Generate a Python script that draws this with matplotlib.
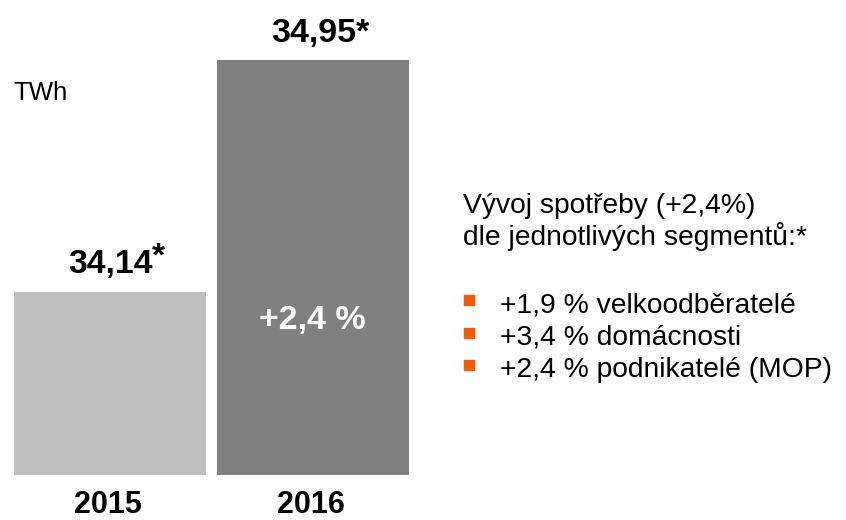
import matplotlib.pyplot as plt
from matplotlib.patches import Rectangle

plt.rcParams['font.family'] = ['Liberation Sans', 'DejaVu Sans']

years = ['2015', '2016']
values = [34.14, 34.95]
value_labels = ['34,14', '34,95*']
bar_colors = ['#bfbfbf', '#808080']
change_label = '+2,4 %'
unit = 'TWh'
note_lines = ['Vývoj spotřeby (+2,4%)', 'dle jednotlivých segmentů:*']
segments = ['+1,9 % velkoodběratelé', '+3,4 % domácnosti', '+2,4 % podnikatelé (MOP)']
base = 33.5

W, H = 846, 520
px = 286.2  # pixels per TWh
fig = plt.figure(figsize=(W / 100, H / 100), dpi=100)
ax = fig.add_axes([0, 0, 1, 1])
ax.set_xlim(-110 / 203, (W - 110) / 203)
ax.set_ylim(base - 45 / px, base + 475 / px)
ax.axis('off')

x = list(range(len(years)))
heights = [v - base for v in values]
ax.bar(x, heights, bottom=base, width=192 / 203, color=bar_colors)

# value labels above bars
t0 = ax.annotate(value_labels[0], (x[0], values[0]), xytext=(0, 13.5),
                 textcoords='offset points', ha='center', va='baseline',
                 fontsize=24.3, fontweight='bold')
ax.annotate('*', (1.0, 1.0), xycoords=t0, xytext=(0, -6), textcoords='offset points',
            ha='left', va='center', fontsize=24.3, fontweight='bold')
ax.annotate(value_labels[1], (x[1] + 0.035, values[1]), xytext=(0, 13),
            textcoords='offset points', ha='center', va='baseline',
            fontsize=24.5, fontweight='bold')

# change inside bar
ax.text(x[1] - 0.005, base + (475 - 320) / px, change_label, ha='center', va='center',
        fontsize=24.5, fontweight='bold', color='white')

# year labels
for xi, yr in zip(x, years):
    ax.text(xi - 0.01, base - 38 / px, yr, ha='center', va='baseline',
            fontsize=22, fontweight='bold')

fig.text(13 / W, 1 - 100 / H, unit, ha='left', va='baseline', fontsize=18.5)

for i, line in enumerate(note_lines):
    fig.text(463 / W, 1 - (213 + 32 * i) / H, line, ha='left', va='baseline', fontsize=20.3)

for i, seg in enumerate(segments):
    yb = 312 + 32.5 * i
    fig.text(500 / W, 1 - yb / H, seg, ha='left', va='baseline', fontsize=20.3)
    fig.patches.append(Rectangle((464 / W, 1 - (yb - 7) / H), 10 / W, 10 / H,
                                 transform=fig.transFigure, color='#f25c05'))

fig.savefig('out.png', dpi=100)
